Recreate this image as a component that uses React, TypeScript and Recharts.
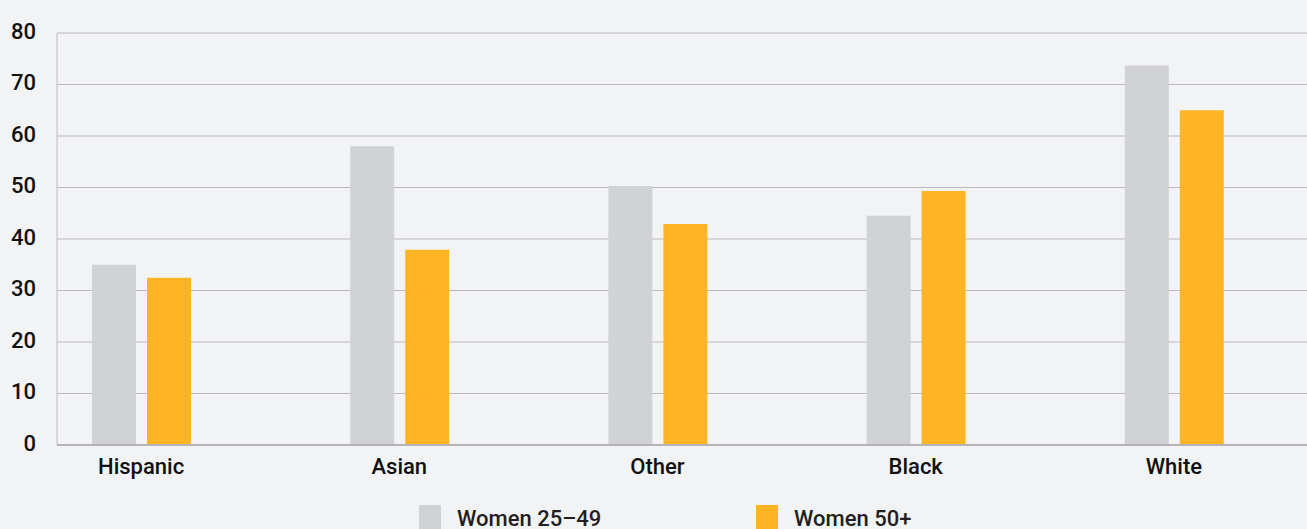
import { BarChart, Bar, XAxis, YAxis, CartesianGrid, Legend } from 'recharts';

const groups = ['Hispanic', 'Asian', 'Other', 'Black', 'White'];
const women25to49 = [35.0, 58.0, 50.3, 44.5, 73.7];
const women50plus = [32.5, 37.9, 42.9, 49.3, 65.0];
const yTicks = [0, 10, 20, 30, 40, 50, 60, 70, 80];

const seriesNames = { young: 'Women 25–49', old: 'Women 50+' };
const colors = { young: '#d1d2d4', old: '#ffb423' };

const data = groups.map((group, i) => ({
  group,
  young: women25to49[i],
  old: women50plus[i],
}));

function LegendRow({ payload }: any) {
  return (
    <div style={{ display: 'flex', height: 24, paddingLeft: 419, fontFamily: 'Roboto' }}>
      {(payload || []).map((p: any, i: number) => (
        <div
          key={p.value}
          style={{ display: 'flex', alignItems: 'flex-start', width: i === 0 ? 337 : 'auto' }}
        >
          <span style={{ width: 22, height: 24, background: p.color, display: 'inline-block' }} />
          <span
            style={{
              marginLeft: 16,
              fontSize: 22,
              fontWeight: 500,
              lineHeight: '18px',
              marginTop: 5,
              color: '#231f20',
            }}
          >
            {p.value}
          </span>
        </div>
      ))}
    </div>
  );
}

export default function App() {
  return (
    <div style={{ width: 1307, height: 529, background: '#f2f3f5', overflow: 'hidden' }}>
      <style>{`body { margin: 0; }`}</style>
      <BarChart
        width={1307}
        height={529}
        data={data}
        margin={{ top: 33, right: 0, left: 0, bottom: 0 }}
        barSize={44}
        barGap={11}
        style={{ fontFamily: 'Roboto' }}
      >
        <CartesianGrid vertical={false} stroke="#b9b9bb" />
        <XAxis
          dataKey="group"
          height={60}
          padding={{ left: -45, right: 4 }}
          tickLine={false}
          tickMargin={7}
          axisLine={{ stroke: '#b5b5b7', strokeWidth: 2 }}
          tick={{ fontSize: 22, fontWeight: 500, fill: '#111111' }}
          interval={0}
        />
        <YAxis
          width={57}
          domain={[0, 80]}
          ticks={yTicks}
          tickLine={false}
          tickMargin={15}
          axisLine={{ stroke: '#bcbcbe' }}
          tick={{ fontSize: 22, fontWeight: 500, fill: '#111111', dy: -2 }}
        />
        <Legend verticalAlign="bottom" align="left" content={<LegendRow />} />
        <Bar dataKey="young" name={seriesNames.young} fill={colors.young} isAnimationActive={false} />
        <Bar dataKey="old" name={seriesNames.old} fill={colors.old} isAnimationActive={false} />
      </BarChart>
    </div>
  );
}
